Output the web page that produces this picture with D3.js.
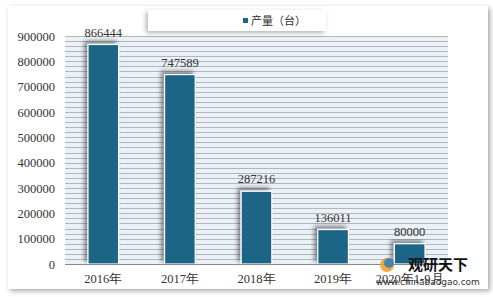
<!DOCTYPE html>
<html><head><meta charset="utf-8">
<script src="https://cdn.jsdelivr.net/npm/d3@7"></script>
<style>html,body{margin:0;padding:0;background:#fff;}svg{display:block;}</style>
</head><body>
<svg id="c" width="493" height="297"></svg>
<script>
const categories = ["2016年","2017年","2018年","2019年","2020年1-9月"];
const values = [866444, 747589, 287216, 136011, 80000];
const seriesName = "产量（台）";
const yTicks = [0,100000,200000,300000,400000,500000,600000,700000,800000,900000];

const svg = d3.select("#c");
const defs = svg.append("defs");
const f = defs.append("filter").attr("id","card").attr("x","-10%").attr("y","-10%").attr("width","120%").attr("height","120%");
f.append("feDropShadow").attr("dx",2).attr("dy",2).attr("stdDeviation",2.5).attr("flood-color","#000").attr("flood-opacity",0.35);
const fb = defs.append("filter").attr("id","bar").attr("x","-50%").attr("y","-20%").attr("width","200%").attr("height","140%");
fb.append("feDropShadow").attr("dx",-3).attr("dy",-3).attr("stdDeviation",2).attr("flood-color","#000").attr("flood-opacity",0.45);
const fl = defs.append("filter").attr("id","leg").attr("x","-10%").attr("y","-30%").attr("width","120%").attr("height","160%");
fl.append("feDropShadow").attr("dx",-2).attr("dy",2).attr("stdDeviation",2.5).attr("flood-color","#000").attr("flood-opacity",0.3);

svg.append("rect").attr("x",8).attr("y",6).attr("width",480).attr("height",283).attr("fill","#fff").attr("filter","url(#card)");

const m = {l:65, r:448, t:36, b:264};
const x = d3.scaleBand().domain(categories).range([m.l, m.r]).paddingInner(0.6).paddingOuter(0.3);
const y = d3.scaleLinear().domain([0,900000]).range([m.b, m.t]);

svg.append("rect").attr("x",m.l).attr("y",m.t).attr("width",m.r-m.l).attr("height",m.b-m.t).attr("fill","#eaf1f7");
const minor = d3.range(0, 900001, 20000);
svg.append("g").selectAll("line").data(minor).join("line")
  .attr("x1",m.l).attr("x2",m.r).attr("y1",d=>Math.round(y(d))+0.5).attr("y2",d=>Math.round(y(d))+0.5)
  .attr("stroke","#b3b6b9").attr("stroke-width",1);

svg.append("g").selectAll("rect").data(values).join("rect")
  .attr("x",(d,i)=>x(categories[i])).attr("width",x.bandwidth())
  .attr("y",d=>y(d)).attr("height",d=>y(0)-y(d))
  .attr("fill","#1b6586").attr("stroke","#fff").attr("stroke-width",1.2)
  .attr("filter","url(#bar)");

svg.append("line").attr("x1",m.l).attr("x2",m.r).attr("y1",m.b+0.5).attr("y2",m.b+0.5).attr("stroke","#888");

const fontNum = "'Liberation Serif','DejaVu Serif',serif";
svg.append("g").selectAll("text").data(values).join("text")
  .attr("x",(d,i)=>x(categories[i])+x.bandwidth()/2).attr("y",d=>y(d)-8)
  .attr("text-anchor","middle").attr("font-family",fontNum).attr("font-size",12.5).attr("fill","#333")
  .text(d=>d);

const yAxis = d3.axisLeft(y).tickValues(yTicks).tickSize(0).tickPadding(10).tickFormat(d3.format("d"));
const ga = svg.append("g").attr("transform",`translate(${m.l},0)`).call(yAxis);
ga.select(".domain").remove();
ga.selectAll("text").attr("font-family",fontNum).attr("font-size",12.5).attr("fill","#333");

const xAxis = d3.axisBottom(x).tickSize(0).tickPadding(10);
const gx = svg.append("g").attr("transform",`translate(0,${m.b})`).call(xAxis);
gx.select(".domain").remove();
gx.selectAll("text").attr("font-family",fontNum).attr("font-size",12.5).attr("fill","#333");

const lg = svg.append("g");
lg.append("rect").attr("x",148).attr("y",10).attr("width",178).attr("height",21).attr("fill","#fff").attr("filter","url(#leg)");
lg.append("rect").attr("x",243).attr("y",18).attr("width",5).attr("height",5).attr("fill","#1b6586");
lg.append("text").attr("x",251).attr("y",25).attr("font-family","'Noto Sans CJK SC',sans-serif").attr("font-size",11).attr("fill","#333").text(seriesName);

const wm = svg.append("g");
wm.append("text").attr("x",408).attr("y",270).attr("font-family","'Noto Sans CJK SC',sans-serif").attr("font-weight","bold").attr("font-size",15).attr("fill","#111").text("观研天下");
wm.append("text").attr("x",376).attr("y",285).attr("font-family","'DejaVu Sans',sans-serif").attr("font-size",9).attr("fill","#333").text("www.chinabaogao.com");
wm.append("circle").attr("cx",387).attr("cy",265).attr("r",7).attr("fill","#f39a1e").attr("opacity",0.85);
wm.append("circle").attr("cx",389).attr("cy",263).attr("r",5).attr("fill","#2a7fb8").attr("opacity",0.85);
</script>
</body></html>
